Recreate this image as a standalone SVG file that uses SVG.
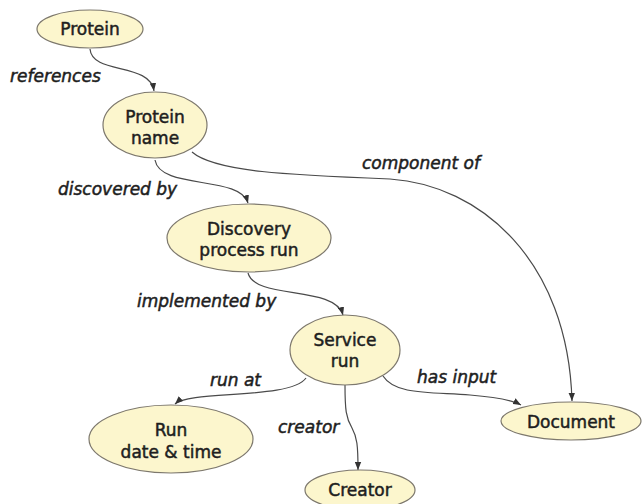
<svg xmlns="http://www.w3.org/2000/svg" width="643" height="504" viewBox="0 0 643 504">
<style>
.node ellipse{fill:#fcf6cd;stroke:#7d786d;stroke-width:1.2}
.node text{font-family:"DejaVu Sans",Verdana,sans-serif;font-size:17px;fill:#1e1e1e;text-anchor:middle;stroke:#1e1e1e;stroke-width:0.5}
.lbl{font-family:"DejaVu Sans",Verdana,sans-serif;font-size:17px;font-style:italic;fill:#1e1e1e;stroke:#1e1e1e;stroke-width:0.5}
.edge{fill:none;stroke:#4a4a4a;stroke-width:1.2;marker-end:url(#arr)}
</style>
<defs>
<marker id="arr" markerUnits="userSpaceOnUse" viewBox="0 0 10 8" refX="10" refY="4" markerWidth="8" markerHeight="7" orient="auto">
<path d="M0,0 L10,4 L0,8 Z" fill="#333"/>
</marker>
</defs>
<g id="connectors">
<path class="edge" d="M 90 49 C 92 75, 150 62, 154 91"/>
<path class="edge" d="M 155 160 C 160 190, 240 175, 248 203"/>
<path class="edge" d="M 192 152 C 215 172, 290 175, 390 179 C 480 185, 568 260, 572 401"/>
<path class="edge" d="M 248 273 C 255 300, 335 285, 343 315"/>
<path class="edge" d="M 306 378 C 290 400, 190 390, 175 404"/>
<path class="edge" d="M 345 385 C 345 410, 346 418, 352 428 C 357 437, 358 445, 358 470"/>
<path class="edge" d="M 383 376 C 395 395, 430 392, 470 395 C 495 397, 512 400, 521 405"/>
<text class="lbl" x="10" y="82">references</text>
<text class="lbl" x="58" y="195">discovered by</text>
<text class="lbl" x="362" y="169">component of</text>
<text class="lbl" x="137" y="307">implemented by</text>
<text class="lbl" x="210" y="386">run at</text>
<text class="lbl" x="417" y="383">has input</text>
<text class="lbl" x="278" y="433">creator</text>
</g>
<g id="protein" class="node"><ellipse cx="90" cy="29" rx="53" ry="19"/><text x="90" y="35">Protein</text></g>
<g id="protein-name" class="node"><ellipse cx="155" cy="125" rx="52" ry="33"/><text x="155" y="123">Protein</text><text x="155" y="144">name</text></g>
<g id="discovery" class="node"><ellipse cx="249" cy="238" rx="82" ry="34"/><text x="249" y="235">Discovery</text><text x="249" y="256">process run</text></g>
<g id="service-run" class="node"><ellipse cx="345" cy="350" rx="55" ry="35"/><text x="345" y="346">Service</text><text x="345" y="367">run</text></g>
<g id="run-date" class="node"><ellipse cx="171" cy="439" rx="82" ry="34"/><text x="171" y="436">Run</text><text x="171" y="458">date &amp; time</text></g>
<g id="document" class="node"><ellipse cx="571" cy="421" rx="70" ry="19"/><text x="571" y="428">Document</text></g>
<g id="creator" class="node"><ellipse cx="360" cy="490" rx="55" ry="20"/><text x="360" y="496">Creator</text></g>
</svg>
